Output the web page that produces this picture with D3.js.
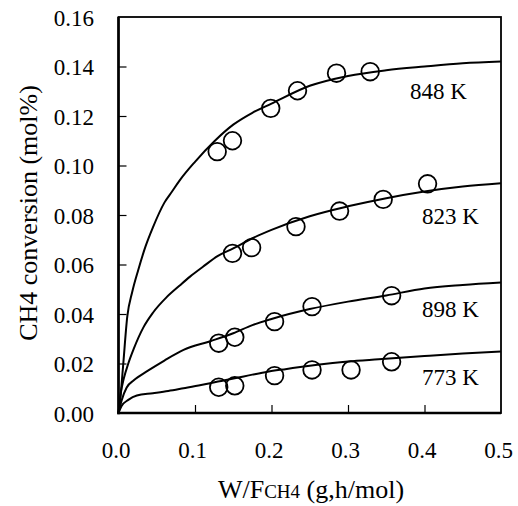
<!DOCTYPE html>
<html>
<head>
<meta charset="utf-8">
<script src="https://cdn.jsdelivr.net/npm/d3@7"></script>
<style>
  html, body { margin: 0; padding: 0; background: #fff; }
  svg { display: block; }
  text { font-family: "Liberation Serif", "Times New Roman", serif; fill: #000; }
</style>
</head>
<body>
<svg id="chart" width="518" height="506"></svg>
<script>
// Measured conversion (symbols), W/F_CH4 in g·h/mol, conversion in mol%
const temps = ["848 K", "823 K", "898 K", "773 K"];

const obs848 = [[0.129, 0.1056], [0.149, 0.110], [0.199, 0.1231], [0.234, 0.1302], [0.285, 0.1373], [0.329, 0.1379]];
const obs823 = [[0.149, 0.0645], [0.174, 0.0668], [0.232, 0.0753], [0.289, 0.0816], [0.346, 0.0863], [0.404, 0.0926]];
const obs898 = [[0.131, 0.0282], [0.152, 0.0306], [0.204, 0.0369], [0.253, 0.0430], [0.357, 0.0474]];
const obs773 = [[0.131, 0.0104], [0.152, 0.0110], [0.204, 0.0151], [0.253, 0.0174], [0.304, 0.0174], [0.357, 0.0207]];

// Model curves
const fit848 = [[0, 0], [0.003, 0.008], [0.006, 0.019], [0.0115, 0.039], [0.018, 0.049], [0.026, 0.058], [0.035, 0.067],
  [0.045, 0.075], [0.06, 0.085], [0.07, 0.0895], [0.08, 0.094], [0.1, 0.1015], [0.125, 0.1097], [0.15, 0.1165],
  [0.175, 0.1213], [0.2, 0.1250], [0.25, 0.1322], [0.3, 0.1362], [0.35, 0.1385], [0.4, 0.1400], [0.45, 0.1413], [0.5, 0.1420]];
const fit823 = [[0, 0], [0.003, 0.008], [0.007, 0.014], [0.0128, 0.020], [0.02, 0.026], [0.0324, 0.0345], [0.045, 0.0405],
  [0.063, 0.0468], [0.08, 0.0515], [0.0935, 0.0551], [0.11, 0.0590], [0.13, 0.0635], [0.15, 0.0665], [0.175, 0.0706],
  [0.2, 0.0740], [0.25, 0.0795], [0.3, 0.0835], [0.35, 0.0868], [0.4, 0.0895], [0.45, 0.0915], [0.5, 0.0928]];
const fit898 = [[0, 0], [0.004, 0.005], [0.0107, 0.0103], [0.02, 0.0132], [0.038, 0.0170], [0.06, 0.0212], [0.085, 0.0255],
  [0.12, 0.0290], [0.15, 0.0322], [0.175, 0.0355], [0.2, 0.0380], [0.25, 0.0420], [0.3, 0.0450], [0.35, 0.0475],
  [0.4, 0.0503], [0.45, 0.0517], [0.5, 0.0527]];
const fit773 = [[0, 0], [0.004, 0.0028], [0.0128, 0.0053], [0.024, 0.0071], [0.045, 0.0080], [0.065, 0.0089],
  [0.085, 0.0100], [0.108, 0.0113], [0.13, 0.0127], [0.152, 0.0140], [0.175, 0.0155], [0.195, 0.0167], [0.22, 0.0178],
  [0.24, 0.0187], [0.28, 0.0202], [0.3, 0.0208], [0.34, 0.0217], [0.4, 0.0230], [0.45, 0.0240], [0.5, 0.0248]];

const xTicks = [0.0, 0.1, 0.2, 0.3, 0.4, 0.5];
const yTicks = [0.00, 0.02, 0.04, 0.06, 0.08, 0.10, 0.12, 0.14, 0.16];

const series = [
  { name: temps[0], obs: obs848, fit: fit848, label: [410, 99] },
  { name: temps[1], obs: obs823, fit: fit823, label: [422, 224] },
  { name: temps[2], obs: obs898, fit: fit898, label: [422, 317] },
  { name: temps[3], obs: obs773, fit: fit773, label: [422, 385] }
];

const svg = d3.select("#chart");
const x = d3.scaleLinear().domain([0, 0.5]).range([118.5, 501]);
const y = d3.scaleLinear().domain([0, 0.16]).range([413, 17]);

// plot frame
svg.append("rect")
  .attr("x", x(0)).attr("y", y(0.16))
  .attr("width", x(0.5) - x(0)).attr("height", y(0) - y(0.16))
  .attr("fill", "none").attr("stroke", "#000").attr("stroke-width", 1.8);

// inner tick marks
const xAxis = d3.axisTop(x).tickValues(xTicks.slice(1, -1)).tickSize(8).tickFormat("");
svg.append("g").attr("transform", `translate(0,${y(0)})`).call(xAxis)
  .call(g => g.select(".domain").remove())
  .call(g => g.selectAll("line").attr("stroke-width", 1.2));
const yAxis = d3.axisRight(y).tickValues(yTicks.slice(1, -1)).tickSize(8).tickFormat("");
svg.append("g").attr("transform", `translate(${x(0)},0)`).call(yAxis)
  .call(g => g.select(".domain").remove())
  .call(g => g.selectAll("line").attr("stroke-width", 1.2));

// heavier left and bottom axis lines
svg.append("line").attr("x1", x(0)).attr("x2", x(0)).attr("y1", y(0.16)).attr("y2", y(0) + 1.2)
  .attr("stroke", "#000").attr("stroke-width", 2.6);
svg.append("line").attr("x1", x(0) - 1.2).attr("x2", x(0.5)).attr("y1", y(0)).attr("y2", y(0))
  .attr("stroke", "#000").attr("stroke-width", 2.6);

// tick labels
svg.append("g").selectAll("text").data(yTicks).join("text")
  .attr("x", 94).attr("y", d => y(d) + 8.5)
  .attr("text-anchor", "end").attr("font-size", 23)
  .text(d => d.toFixed(2));
svg.append("g").selectAll("text").data(xTicks).join("text")
  .attr("x", d => x(d) - 2.5).attr("y", 458)
  .attr("text-anchor", "middle").attr("font-size", 23)
  .text(d => d.toFixed(1));

// axis titles
const xt = svg.append("text").attr("x", 311).attr("y", 498)
  .attr("text-anchor", "middle").attr("font-size", 26);
xt.append("tspan").text("W/F");
xt.append("tspan").attr("font-size", 19).text("CH4");
xt.append("tspan").text(" (g,h/mol)");

svg.append("text")
  .attr("transform", "translate(37,213) rotate(-90)")
  .attr("text-anchor", "middle").attr("font-size", 26)
  .text("CH4 conversion (mol%)");

// model curves and measured points
const line = d3.line().x(d => x(d[0])).y(d => y(d[1])).curve(d3.curveMonotoneX);
series.forEach(s => {
  svg.append("path").datum(s.fit).attr("d", line)
    .attr("fill", "none").attr("stroke", "#000").attr("stroke-width", 2);
  svg.append("g").selectAll("circle").data(s.obs).join("circle")
    .attr("cx", d => x(d[0])).attr("cy", d => y(d[1])).attr("r", 8.8)
    .attr("fill", "none").attr("stroke", "#000").attr("stroke-width", 1.8);
  svg.append("text").attr("x", s.label[0]).attr("y", s.label[1])
    .attr("font-size", 23).text(s.name);
});
</script>
</body>
</html>
